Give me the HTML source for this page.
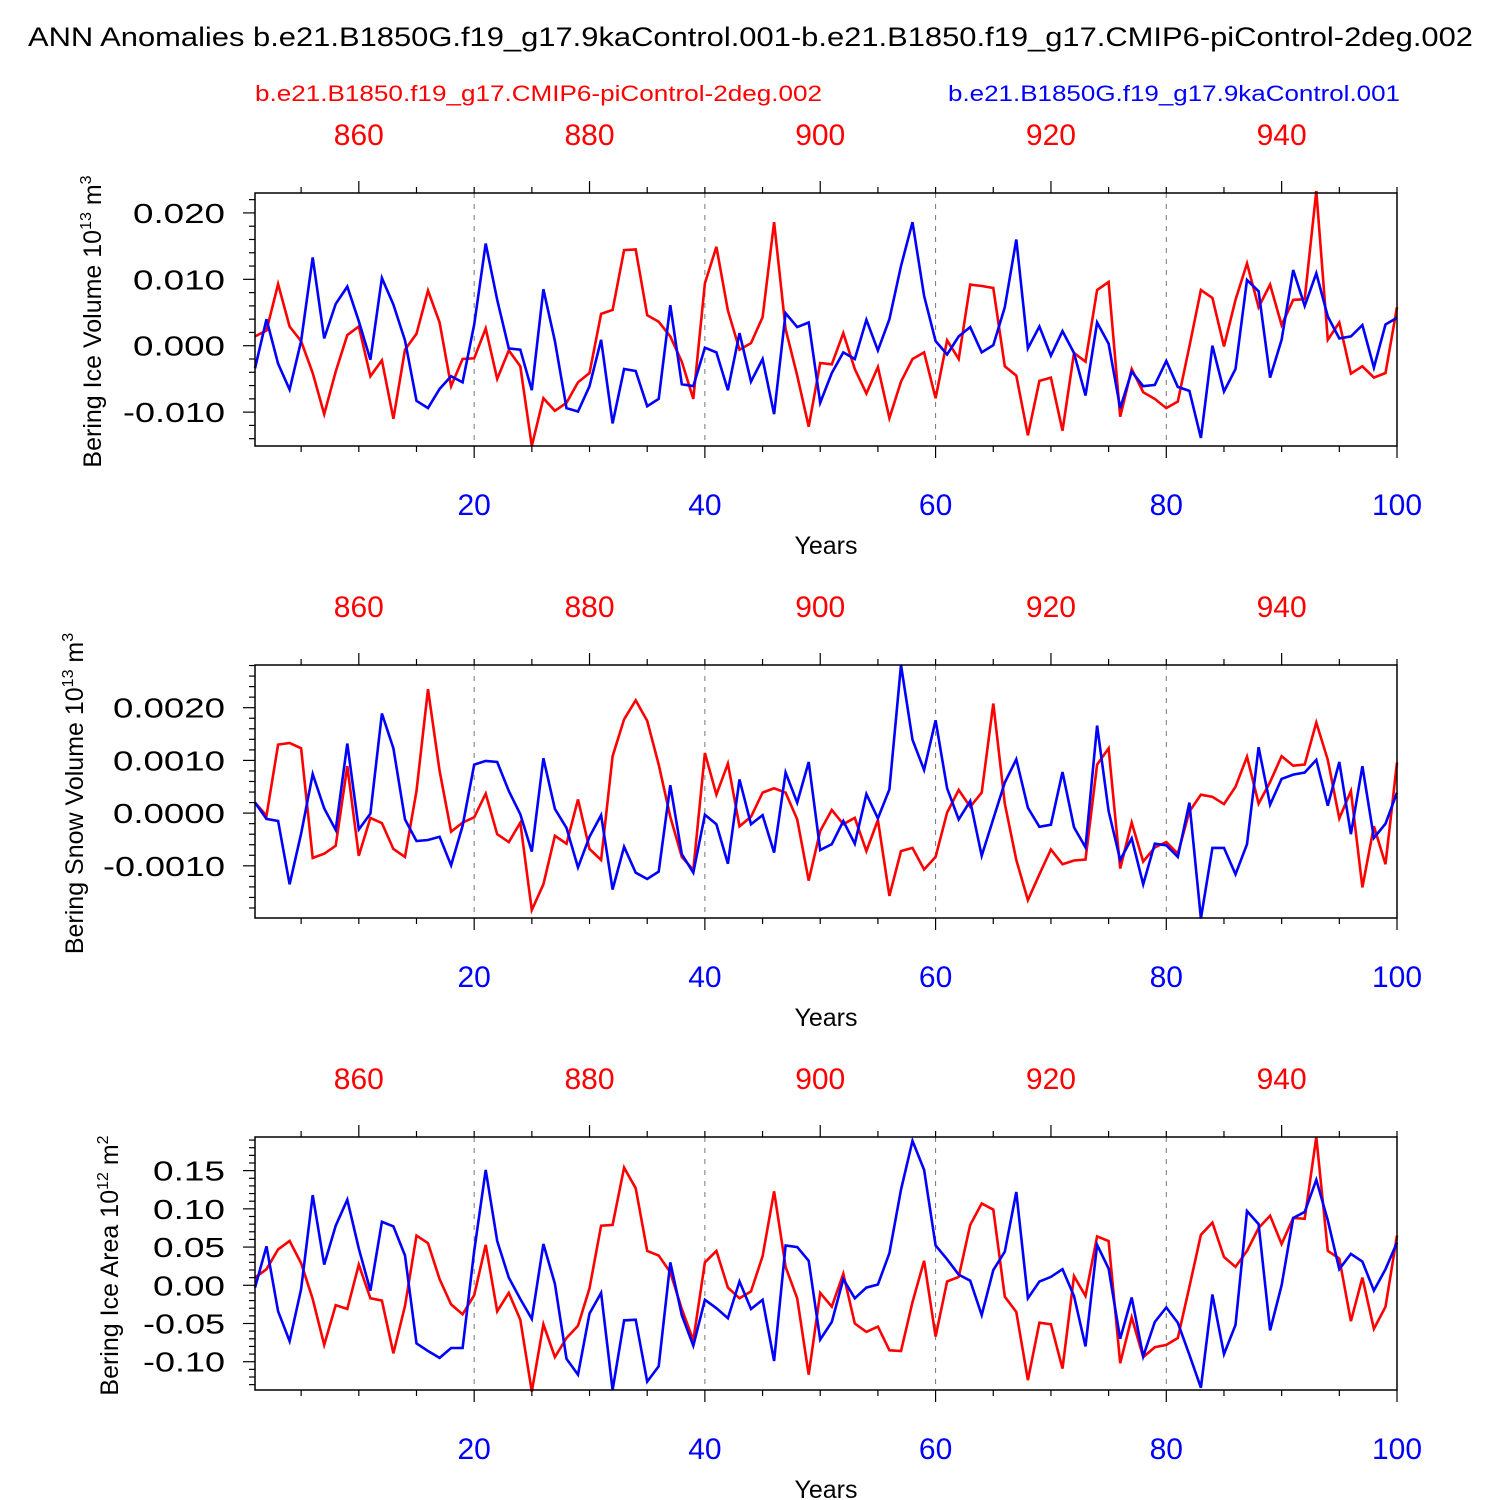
<!DOCTYPE html>
<html><head><meta charset="utf-8"><style>
body{margin:0;background:#fff}
svg{display:block;font-family:"Liberation Sans",Arial,sans-serif}
</style></head><body>
<svg id="chart" width="1500" height="1500" viewBox="0 0 1500 1500">
<text x="28" y="46" font-size="27" textLength="1445" lengthAdjust="spacingAndGlyphs">ANN Anomalies b.e21.B1850G.f19_g17.9kaControl.001-b.e21.B1850.f19_g17.CMIP6-piControl-2deg.002</text>
<text x="255" y="101" font-size="22" fill="#f00" textLength="567" lengthAdjust="spacingAndGlyphs">b.e21.B1850.f19_g17.CMIP6-piControl-2deg.002</text>
<text x="948" y="101" font-size="22" fill="#00f" textLength="452" lengthAdjust="spacingAndGlyphs">b.e21.B1850G.f19_g17.9kaControl.001</text>
</svg>
<script>
const years = Array.from({length:100},(_,i)=>i+1);
const redOffset = 850;
const p1Red = [1.4,2.3,9.3,2.9,0.7,-4.1,-10.3,-3.9,1.6,2.9,-4.6,-2.2,-11.0,-0.6,1.8,8.3,3.5,-6.1,-2.0,-1.9,2.6,-5.0,-0.7,-3.1,-15.1,-7.9,-9.8,-8.6,-5.5,-4.1,4.8,5.4,14.4,14.5,4.6,3.6,1.4,-2.4,-8.0,9.4,14.9,5.3,-0.6,0.4,4.3,18.6,2.5,-4.5,-12.2,-2.6,-2.8,1.9,-3.5,-7.2,-3.2,-10.9,-5.4,-2.0,-1.0,-7.9,0.8,-2.0,9.2,9.0,8.7,-3.1,-4.5,-13.5,-5.3,-4.8,-12.8,-1.1,-2.4,8.4,9.6,-10.7,-3.5,-7.0,-8.0,-9.4,-8.4,-0.1,8.4,7.2,-0.1,6.9,12.4,5.8,9.2,3.1,6.9,7.0,23.3,0.9,3.5,-4.2,-3.1,-4.8,-4.1,5.8];
const p1Blue = [-3.4,4.0,-2.7,-6.6,0.7,13.3,1.1,6.3,8.9,3.7,-2.1,10.2,6.2,0.8,-8.3,-9.4,-6.5,-4.6,-5.5,3.2,15.4,6.9,-0.4,-0.6,-6.7,8.5,0.7,-9.4,-9.9,-6.1,0.9,-11.7,-3.5,-3.8,-9.1,-8.0,6.1,-5.8,-6.1,-0.3,-1.0,-6.7,1.9,-5.4,-2.0,-10.3,4.9,2.8,3.5,-8.6,-4.1,-1.0,-2.0,3.9,-0.7,4.0,12.0,18.6,7.5,0.7,-1.3,1.4,2.8,-1.0,0.1,5.8,16.0,-0.4,2.9,-1.5,2.2,-1.1,-7.5,3.5,0.3,-9.4,-3.9,-6.1,-5.9,-2.3,-6.2,-6.8,-13.9,0.0,-6.9,-3.5,9.9,8.2,-4.8,0.9,11.4,6.0,10.9,4.4,1.1,1.4,3.1,-3.3,3.2,4.2];
const p2Red = [2.0,-0.5,13.0,13.3,12.3,-8.5,-7.7,-6.2,8.9,-8.1,-0.9,-1.9,-6.8,-8.3,4.2,23.5,8.0,-3.5,-1.8,-0.8,3.7,-4.0,-5.5,-1.8,-18.4,-13.5,-4.3,-5.8,2.6,-6.8,-8.9,10.8,17.8,21.4,17.5,9.2,-0.7,-8.3,-10.8,11.4,3.5,9.4,-2.5,-0.7,3.9,4.7,3.9,-1.2,-12.8,-3.4,0.6,-2.1,-0.9,-7.2,-1.3,-15.7,-7.2,-6.6,-10.7,-8.3,0.1,4.4,1.2,3.9,20.8,1.8,-8.9,-16.5,-11.6,-6.9,-9.7,-9.0,-8.8,9.2,12.3,-10.5,-1.8,-9.2,-6.5,-5.5,-7.7,0.3,3.5,3.1,1.7,5.0,10.7,1.8,5.9,10.8,9.0,9.2,17.2,10.1,-1.0,4.2,-14.1,-2.5,-9.7,9.6];
const p2Blue = [2.0,-1.1,-1.5,-13.5,-3.9,7.4,0.9,-3.2,13.2,-3.1,-0.1,18.9,12.3,-1.2,-5.3,-5.1,-4.5,-9.9,-2.4,9.2,9.9,9.7,4.2,-0.2,-7.3,10.4,0.8,-2.8,-10.3,-4.5,-0.4,-14.5,-6.4,-11.3,-12.5,-11.1,5.3,-7.8,-11.3,-0.3,-2.1,-9.6,6.4,-2.1,-0.4,-7.5,7.7,2.0,9.7,-7.0,-5.9,-1.5,-5.8,3.6,-1.0,4.5,28.1,13.9,8.2,17.6,4.7,-1.2,2.3,-8.1,-1.1,5.8,10.2,1.0,-2.6,-2.2,7.8,-2.7,-6.5,16.6,0.4,-8.9,-4.8,-13.5,-5.8,-6.1,-8.3,2.0,-20.0,-6.6,-6.6,-11.6,-5.9,12.5,1.6,6.5,7.3,7.7,10.1,1.4,9.7,-4.0,8.9,-4.7,-2.0,3.9];
const p3Red = [1.0,2.1,4.7,5.8,2.9,-1.8,-7.8,-2.6,-3.1,2.7,-1.7,-2.0,-8.9,-2.7,6.5,5.5,0.8,-2.5,-3.8,-1.3,5.3,-3.4,-1.0,-4.5,-13.9,-5.1,-9.4,-6.9,-5.3,-0.4,7.8,7.9,15.4,12.7,4.5,3.9,1.7,-3.1,-7.2,3.0,4.5,-0.3,-1.7,-0.8,3.8,12.3,2.4,-1.7,-11.7,-1.0,-2.8,1.5,-5.0,-6.1,-5.4,-8.5,-8.6,-2.2,3.2,-6.7,0.5,1.1,7.9,10.7,9.9,-1.5,-3.5,-12.4,-4.9,-5.1,-10.9,1.2,-1.4,6.4,5.8,-10.2,-4.2,-9.4,-8.1,-7.8,-6.9,-0.2,6.6,8.2,3.7,2.4,4.5,7.5,9.1,5.4,8.8,8.7,19.4,4.5,3.5,-4.7,1.0,-5.7,-2.8,6.5];
const p3Blue = [-0.3,5.1,-3.4,-7.3,-0.5,11.8,2.7,7.8,11.2,4.8,-0.7,8.3,7.7,3.9,-7.6,-8.6,-9.5,-8.2,-8.2,4.5,15.1,5.8,1.0,-1.8,-4.4,5.4,0.2,-9.6,-11.7,-3.7,-1.0,-13.7,-4.6,-4.5,-12.6,-10.6,3.0,-3.9,-7.9,-1.9,-3.0,-4.3,0.5,-3.1,-1.9,-9.9,5.2,5.0,3.2,-7.1,-4.8,0.8,-1.7,-0.3,0.1,4.2,12.5,18.9,15.1,5.2,3.4,1.4,0.6,-3.9,2.0,4.4,12.2,-1.7,0.5,1.1,2.1,-1.4,-8.0,5.3,2.2,-7.0,-1.6,-9.3,-4.8,-2.9,-4.9,-9.1,-13.4,-1.2,-9.0,-5.2,9.7,8.0,-5.9,0.0,8.8,9.6,13.8,8.5,2.1,4.1,3.1,-0.7,2.1,5.6];
const p1Ticks = ["0.020","0.010","0.000","-0.010"];
const p2Ticks = ["0.0020","0.0010","0.0000","-0.0010"];
const p3Ticks = ["0.15","0.10","0.05","0.00","-0.05","-0.10"];
const bottomTicks = [20,40,60,80,100];
const topTicks = [860,880,900,920,940];

const NS="http://www.w3.org/2000/svg";
const svg=document.getElementById('chart');
function mk(tag,attrs,parent){const e=document.createElementNS(NS,tag);for(const k in attrs)e.setAttribute(k,attrs[k]);(parent||svg).appendChild(e);return e;}
const X0=255,X1=1397;
function xs(yr){return X0+(yr-1)*(X1-X0)/99;}
function labW(s){let w=0;for(const c of s){w+= c==='.'?12:(c==='-'?10:20);}return w;}

const panels=[
 {top:193,bot:446,ymin:-0.0151,ymax:0.0230,scale:0.001,red:p1Red,blue:p1Blue,ticks:p1Ticks,tickStep:0.01,tickStart:0.02,minor:0.002,title:"Bering Ice Volume 10",sup:"13",unit:" m",usup:"3",tx:101,name:"ice-volume"},
 {top:665,bot:918,ymin:-0.00199,ymax:0.00281,scale:0.0001,red:p2Red,blue:p2Blue,ticks:p2Ticks,tickStep:0.001,tickStart:0.002,minor:0.0002,title:"Bering Snow Volume 10",sup:"13",unit:" m",usup:"3",tx:83,name:"snow-volume"},
 {top:1137,bot:1390,ymin:-0.137,ymax:0.194,scale:0.01,red:p3Red,blue:p3Blue,ticks:p3Ticks,tickStep:0.05,tickStart:0.15,minor:0.01,title:"Bering Ice Area 10",sup:"12",unit:" m",usup:"2",tx:118,name:"ice-area"}
];

panels.forEach(p=>{
 const g=mk('g',{});
 
 
 const ys=v=>p.bot-(v-p.ymin)/(p.ymax-p.ymin)*(p.bot-p.top);
 [20,40,60,80].forEach(t=>{const l=mk('line',{x1:xs(t),x2:xs(t),y1:p.top,y2:p.bot,stroke:'#777','stroke-width':1,'stroke-dasharray':'5,6'},g);
  
  });
 [['red','#f00'],['blue','#00f']].forEach(([k,c])=>{
  const pts=p[k].map((v,i)=>xs(years[i]).toFixed(1)+','+ys(v*p.scale).toFixed(1)).join(' ');
  const pl=mk('polyline',{points:pts,fill:'none',stroke:c,'stroke-width':2.6,'stroke-linejoin':'miter'},g);
  
  
 });
 const fr=mk('rect',{x:X0,y:p.top,width:X1-X0,height:p.bot-p.top,fill:'none',stroke:'#000','stroke-width':1.5},g);
 
 
 for(let yr=5;yr<=100;yr+=5){const x=xs(yr);const maj=yr%20===0;
  mk('line',{x1:x,x2:x,y1:p.bot,y2:p.bot+(maj?12:6),stroke:'#000','stroke-width':1.2},g);}
 for(let yr=855;yr<=950;yr+=5){const x=xs(yr-redOffset);const maj=yr%20===0;
  mk('line',{x1:x,x2:x,y1:p.top,y2:p.top-(maj?12:6),stroke:'#000','stroke-width':1.2},g);}
 bottomTicks.forEach(t=>{const tx=mk('text',{x:xs(t),y:p.bot+69,'font-size':30,fill:'#00f','text-anchor':'middle'},g);tx.textContent=t;
  
  });
 topTicks.forEach(t=>{const tx=mk('text',{x:xs(t-redOffset),y:p.top-48,'font-size':30,fill:'#f00','text-anchor':'middle'},g);tx.textContent=t;
  
  });
 const xt=mk('text',{x:826,y:p.bot+108,'font-size':25,'text-anchor':'middle'},g);xt.textContent='Years';
 
 
 const start=Math.ceil(p.ymin/p.minor);
 for(let i=start;i*p.minor<=p.ymax+1e-12;i++){const v=i*p.minor;const y=ys(v);
  const maj=Math.abs(v/p.tickStep-Math.round(v/p.tickStep))<1e-6;
  mk('line',{x1:X0,x2:X0-(maj?12:6),y1:y,y2:y,stroke:'#000','stroke-width':1.2},g);}
 p.ticks.forEach((t,i)=>{const v=p.tickStart-i*p.tickStep;const w=labW(t);
  const tx=mk('text',{x:225-w,y:ys(v)+10,'font-size':28,textLength:w,lengthAdjust:'spacingAndGlyphs'},g);tx.textContent=t;
  
  });
 const cy=(p.top+p.bot)/2+2;
 const yt=mk('text',{x:p.tx,y:cy,'font-size':25,'text-anchor':'middle',transform:`rotate(-90 ${p.tx} ${cy})`},g);
 
 
 yt.innerHTML=`${p.title}<tspan dy="-10" font-size="16">${p.sup}</tspan><tspan dy="10">${p.unit}</tspan><tspan dy="-10" font-size="16">${p.usup}</tspan>`;
});
</script>
</body></html>
